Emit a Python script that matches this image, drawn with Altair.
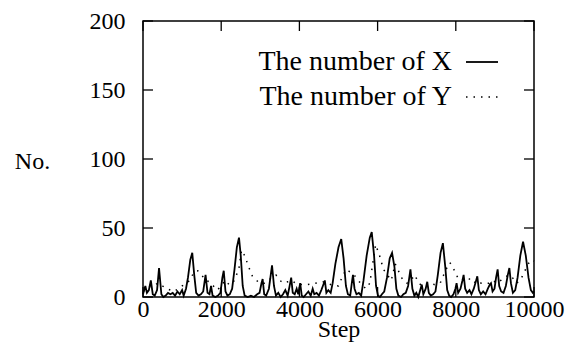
import altair as alt
import pandas as pd

series_names = ["The number of X", "The number of Y"]

x_steps = [0, 60, 100, 150, 200, 250, 300, 360, 410, 470, 520, 580, 640, 700, 760, 820, 880, 940, 1000, 1040,
           1100, 1150, 1210, 1260, 1310, 1360, 1420, 1480, 1540, 1600, 1650, 1700, 1740, 1780, 1850, 1920, 1980,
           2030, 2065, 2110, 2160, 2220, 2280, 2340, 2400, 2455, 2500, 2550, 2600, 2680, 2760, 2840, 2920, 2980,
           3030, 3060, 3100, 3150, 3220, 3300, 3350, 3400, 3460, 3520, 3580, 3640, 3700, 3750, 3790, 3830, 3880,
           3930, 3970, 4020, 4060, 4110, 4170, 4230, 4290, 4340, 4380, 4440, 4500, 4560, 4600, 4650, 4690, 4740,
           4800, 4850, 4920, 5000, 5070, 5130, 5190, 5240, 5300, 5340, 5370, 5410, 5460, 5520, 5580, 5640, 5720,
           5800, 5850, 5910, 5960, 6010, 6060, 6110, 6170, 6240, 6310, 6370, 6430, 6480, 6530, 6600, 6660, 6720,
           6780, 6840, 6890, 6940, 6990, 7040, 7080, 7130, 7170, 7230, 7270, 7310, 7360, 7420, 7480, 7540, 7610,
           7670, 7730, 7780, 7830, 7880, 7940, 7990, 8020, 8060, 8120, 8170, 8200, 8240, 8290, 8350, 8400, 8460,
           8520, 8550, 8590, 8640, 8700, 8760, 8820, 8870, 8900, 8940, 8990, 9030, 9070, 9110, 9160, 9220, 9280,
           9330, 9370, 9410, 9460, 9520, 9580, 9650, 9720, 9790, 9860, 9920, 9970, 10000]
x_values = [2, 8, 3, 5, 12, 2, 1, 5, 21, 2, 0, 1, 3, 2, 3, 1, 4, 2, 5, 1,
            6, 14, 27, 32, 16, 3, 1, 2, 4, 16, 3, 2, 8, 1, 0, 1, 3,
            14, 19, 4, 1, 2, 6, 20, 36, 43, 30, 8, 1, 0, 1, 0, 2, 3,
            10, 13, 2, 1, 6, 23, 8, 1, 3, 0, 2, 5, 1, 8, 14, 3, 2,
            6, 2, 10, 1, 0, 2, 4, 1, 6, 2, 3, 1, 5, 8, 12, 3, 5,
            3, 10, 24, 36, 42, 28, 8, 2, 1, 10, 16, 6, 2, 3, 1, 12, 30,
            43, 47, 30, 8, 1, 0, 2, 4, 14, 28, 32, 22, 6, 1, 0, 2, 3,
            8, 20, 6, 1, 3, 0, 4, 9, 2, 6, 11, 3, 1, 2, 4, 16, 32,
            39, 22, 5, 1, 0, 2, 6, 10, 3, 6, 12, 16, 6, 3, 5, 2, 6,
            12, 15, 5, 2, 4, 2, 6, 9, 10, 4, 6, 14, 20, 8, 4, 3, 8,
            16, 21, 10, 3, 5, 14, 30, 40, 30, 14, 5, 3, 4]

y_steps = [0, 200, 400, 600, 800, 1000, 1200, 1300, 1400, 1500, 1600, 1700, 1800, 1900, 2000, 2100, 2200, 2300,
           2450, 2520, 2600, 2700, 2800, 2900, 3000, 3100, 3200, 3300, 3400, 3500, 3600, 3700, 3800, 3900, 4000,
           4200, 4400, 4600, 4800, 5000, 5100, 5200, 5300, 5400, 5500, 5600, 5700, 5800, 5950, 6050, 6150, 6250,
           6350, 6450, 6550, 6650, 6750, 6850, 6950, 7050, 7150, 7300, 7450, 7600, 7750, 7850, 7950, 8050, 8150,
           8250, 8350, 8450, 8550, 8650, 8750, 8850, 8950, 9050, 9150, 9250, 9350, 9450, 9550, 9650, 9750, 9850,
           9950, 10000]
y_values = [4, 8, 10, 6, 4, 8, 12, 18, 19, 16, 12, 11, 8, 5, 8, 12, 9, 10,
            20, 34, 30, 22, 15, 12, 10, 10, 12, 14, 16, 12, 10, 11, 12, 10, 9,
            9, 10, 11, 9, 8, 15, 20, 18, 16, 12, 9, 6, 10, 38, 30, 20, 16,
            12, 24, 18, 12, 10, 12, 16, 10, 8, 10, 9, 10, 20, 25, 20, 14, 12,
            14, 13, 10, 12, 10, 10, 10, 12, 10, 12, 14, 16, 14, 10, 12, 18, 24,
            27, 26]

x_ticks = [0, 2000, 4000, 6000, 8000, 10000]
y_ticks = [0, 50, 100, 150, 200]

FONT = "Liberation Serif"
W, H = 391, 276
TICK = 10

df_x = pd.DataFrame({"step": x_steps, "value": x_values})
df_y = pd.DataFrame({"step": y_steps, "value": y_values})
df_xt = pd.DataFrame({"t": x_ticks})
df_yt = pd.DataFrame({"t": y_ticks})
df_leg = pd.DataFrame({"name": series_names})

xscale = alt.Scale(domain=[0, 10000], nice=False, zero=False)
yscale = alt.Scale(domain=[0, 200], nice=False)

xaxis = alt.Axis(values=x_ticks, format="d", title="Step", grid=False, ticks=False, domain=False,
                 labelFont=FONT, labelFontSize=24, labelColor="black", labelPadding=0,
                 labelFlush=False, labelOverlap=False,
                 titleFont=FONT, titleFontSize=24, titleFontWeight="normal", titleColor="black",
                 titlePadding=-4)
yaxis = alt.Axis(values=y_ticks, format="d", title="No.", grid=False, ticks=False, domain=False,
                 labelFont=FONT, labelFontSize=24, labelColor="black", labelPadding=18,
                 titleFont=FONT, titleFontSize=24, titleFontWeight="normal", titleColor="black",
                 titleAngle=0, titleAlign="center", titleBaseline="middle",
                 titleX=-111, titleY=140)

line_x = alt.Chart(df_x).mark_line(color="black", strokeWidth=1.8).encode(
    x=alt.X("step:Q", scale=xscale, axis=xaxis),
    y=alt.Y("value:Q", scale=yscale, axis=yaxis),
)
line_y = alt.Chart(df_y).mark_line(color="black", strokeWidth=1.5, strokeDash=[1.5, 6]).encode(
    x=alt.X("step:Q", scale=xscale),
    y=alt.Y("value:Q", scale=yscale),
)

yt_left = alt.Chart(df_yt).mark_rule(color="black", strokeWidth=1.3).encode(
    y=alt.Y("t:Q", scale=yscale), x=alt.value(0), x2=alt.value(TICK))
yt_right = alt.Chart(df_yt).mark_rule(color="black", strokeWidth=1.3).encode(
    y=alt.Y("t:Q", scale=yscale), x=alt.value(W - TICK), x2=alt.value(W))
xt_top = alt.Chart(df_xt).mark_rule(color="black", strokeWidth=1.3).encode(
    x=alt.X("t:Q", scale=xscale), y=alt.value(0), y2=alt.value(TICK))
xt_bot = alt.Chart(df_xt).mark_rule(color="black", strokeWidth=1.3).encode(
    x=alt.X("t:Q", scale=xscale), y=alt.value(H - TICK), y2=alt.value(H))

leg_x_text = alt.Chart(df_leg.iloc[[0]]).mark_text(
    font=FONT, fontSize=28, align="right", baseline="middle", color="black").encode(
    text="name:N", x=alt.value(309), y=alt.value(41))
leg_y_text = alt.Chart(df_leg.iloc[[1]]).mark_text(
    font=FONT, fontSize=28, align="right", baseline="middle", color="black").encode(
    text="name:N", x=alt.value(309), y=alt.value(76))
leg_x_line = alt.Chart(df_leg.iloc[[0]]).mark_rule(color="black", strokeWidth=1.8).encode(
    x=alt.value(323), x2=alt.value(355), y=alt.value(41))
leg_y_line = alt.Chart(df_leg.iloc[[1]]).mark_rule(color="black", strokeWidth=1.5,
                                                   strokeDash=[1.5, 6]).encode(
    x=alt.value(323), x2=alt.value(355), y=alt.value(76))

chart = alt.layer(
    line_y, line_x, yt_left, yt_right, xt_top, xt_bot,
    leg_x_text, leg_y_text, leg_x_line, leg_y_line,
).properties(
    width=W, height=H,
    autosize=alt.AutoSizeParams(type="none"),
    padding={"left": 143, "top": 21, "right": 37, "bottom": 49},
    background="white",
).configure_view(stroke="black", strokeWidth=1.5)

chart.save("out.html", embed_options={"renderer": "svg", "actions": False})
